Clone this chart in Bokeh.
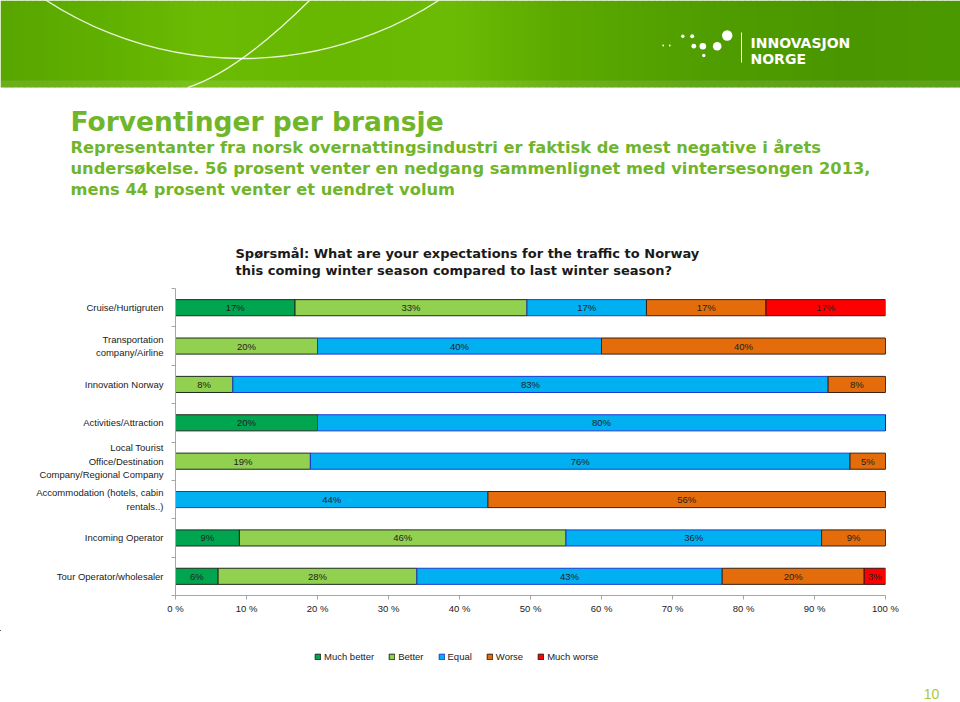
import numpy as np
from bokeh.plotting import figure
from bokeh.layouts import column
from bokeh.models import (Range1d, FixedTicker, ColumnDataSource, Legend, LegendItem)
from bokeh.core.properties import value
from bokeh.embed import file_html
from bokeh.resources import INLINE

# ---------------- data ----------------
categories = [
    "Cruise/Hurtigruten",
    "Transportation\ncompany/Airline",
    "Innovation Norway",
    "Activities/Attraction",
    "Local Tourist\nOffice/Destination\nCompany/Regional Company",
    "Accommodation (hotels, cabin\nrentals..)",
    "Incoming Operator",
    "Tour Operator/wholesaler",
]
series_names = ["Much better", "Better", "Equal", "Worse", "Much worse"]
much_better = [17, 0, 0, 20, 0, 0, 9, 6]
better = [33, 20, 8, 0, 19, 0, 46, 28]
equal = [17, 40, 83, 80, 76, 44, 36, 43]
worse = [17, 40, 8, 0, 5, 56, 9, 20]
much_worse = [17, 0, 0, 0, 0, 0, 0, 3]
x_ticks = [0, 10, 20, 30, 40, 50, 60, 70, 80, 90, 100]
x_tick_labels = ["0 %", "10 %", "20 %", "30 %", "40 %", "50 %", "60 %", "70 %", "80 %", "90 %", "100 %"]

title = "Forventinger per bransje"
subtitle_lines = [
    "Representanter fra norsk overnattingsindustri er faktisk de mest negative i årets",
    "undersøkelse. 56 prosent venter en nedgang sammenlignet med vintersesongen 2013,",
    "mens 44 prosent venter et uendret volum",
]
question_lines = [
    "Spørsmål: What are your expectations for the traffic to Norway",
    "this coming winter season compared to last winter season?",
]
page_number = "10"

fill_colors = ["#00a550", "#92d050", "#00b0f0", "#e46c0a", "#ff0000"]
line_colors = ["#1e2a1e", "#1e2a1e", "#1c3ad0", "#3a2010", "#3a1010"]

W = 960
H_HEAD = 288
H_CHART = 342
H_FOOT = 70

ARIAL = value("Liberation Sans")
WIDE = value("DejaVu Sans")
GREEN = "#70b52a"
SMALL = "9.5px"


def blank_fig(h):
    f = figure(width=W, height=h, x_range=Range1d(0, W), y_range=Range1d(h, 0),
               x_axis_location=None, y_axis_location=None, output_backend="svg",
               toolbar_location=None, min_border=0, outline_line_color=None,
               frame_align=False)
    f.grid.visible = False
    return f


# ---------------- header ----------------
head = blank_fig(H_HEAD)

stops_x = [0, 120, 200, 330, 450, 560, 700, 850, 960]
stops_rgb = [(88, 166, 0), (98, 178, 0), (108, 187, 4), (104, 184, 2), (108, 188, 6),
             (92, 170, 0), (80, 158, 0), (74, 150, 0), (76, 154, 0)]
strip_x = np.arange(0, 960, 6)
strip_cols = []
for sx in strip_x:
    rgb = [int(np.interp(sx + 3, stops_x, [c[k] for c in stops_rgb])) for k in range(3)]
    strip_cols.append("#%02x%02x%02x" % tuple(rgb))
head.quad(left=strip_x, right=strip_x + 6.6, top=0, bottom=87,
          fill_color=strip_cols, line_color=None)
head.quad(left=0, right=W, top=80, bottom=87, fill_color="white", fill_alpha=0.10, line_color=None)

# decorative curves
head.circle(x=[242], y=[-302], radius=360, fill_color=None, line_color="white",
            line_alpha=0.85, line_width=1.3)
head.quadratic(x0=[309], y0=[0], x1=[187], y1=[87], cx=[236], cy=[72],
               line_color="white", line_alpha=0.85, line_width=1.3)

# logo
dot_x = [662.7, 669.3, 682.3, 691.7, 693.3, 702.3, 716.7, 726.7, 703.3]
dot_y = [45, 45, 35.7, 35.7, 45.7, 45.7, 45.7, 35, 55]
dot_r = [0.9, 0.9, 1.7, 2.0, 2.4, 3.3, 4.3, 5.2, 1.7]
head.circle(x=dot_x, y=dot_y, radius=dot_r, fill_color="white", line_color=None)
head.segment(x0=[741], y0=[32], x1=[741], y1=[62], line_color="white", line_width=1)
head.text(x=[750, 750], y=[42.5, 58], text=["INNOVASJON", "NORGE"],
          text_font=WIDE, text_font_style="bold", text_font_size="14px",
          text_color="white", text_baseline="alphabetic", text_align="left")

# title / subtitle / question
head.text(x=[70], y=[121], text=[title], text_font=WIDE, text_font_style="bold",
          text_font_size="26.5px", text_color=GREEN, text_baseline="alphabetic")
head.text(x=[70, 70, 70], y=[147, 168, 189], text=subtitle_lines, text_font=WIDE,
          text_font_style="bold", text_font_size="16.3px", text_color=GREEN,
          text_baseline="alphabetic")
head.text(x=[235, 235], y=[253, 270], text=question_lines, text_font=WIDE,
          text_font_style="bold", text_font_size="13px", text_color="#1a1a1a",
          text_baseline="alphabetic")

# ---------------- chart ----------------
n = len(categories)
ys = list(range(1, n + 1))
raw = np.array([much_better, better, equal, worse, much_worse], dtype=float)
shares = raw / raw.sum(axis=0) * 100.0
cum = np.vstack([np.zeros(n), np.cumsum(shares, axis=0)])

chart = figure(width=W, height=H_CHART, x_range=Range1d(0, 100), y_range=Range1d(n + 0.5, 0.5),
               output_backend="svg", toolbar_location=None,
               min_border_left=175, min_border_right=75, min_border_top=0, min_border_bottom=35,
               outline_line_color=None, background_fill_color="white", border_fill_color="white",
               frame_align=False)
chart.xgrid.grid_line_color = None
chart.ygrid.grid_line_color = None

lab_x, lab_y, lab_t = [], [], []
for i, name in enumerate(series_names):
    src = ColumnDataSource(dict(y=ys, left=cum[i], right=cum[i + 1]))
    chart.hbar(y="y", left="left", right="right", height=0.42, source=src,
               fill_color=fill_colors[i], line_color=line_colors[i], line_width=1)
    for j in range(n):
        if raw[i, j] > 0:
            lab_x.append((cum[i, j] + cum[i + 1, j]) / 2)
            lab_y.append(ys[j])
            lab_t.append("%d%%" % raw[i, j])

chart.text(x=lab_x, y=lab_y, text=lab_t, text_align="center", text_baseline="middle",
           text_font=ARIAL, text_font_size=SMALL, text_color="#222222")

# y axis
yax = chart.yaxis[0]
yax.ticker = FixedTicker(ticks=ys, minor_ticks=[k + 0.5 for k in range(0, n + 1)])
yax.major_label_overrides = {y: c for y, c in zip(ys, categories)}
yax.major_tick_out = 0
yax.major_tick_in = 0
yax.minor_tick_out = 4
yax.minor_tick_in = 0
yax.axis_line_color = "#a6a6a6"
yax.minor_tick_line_color = "#a6a6a6"
yax.major_label_standoff = 8
yax.major_label_text_font = "Liberation Sans"
yax.major_label_text_font_size = SMALL
yax.major_label_text_color = "#1a1a1a"

# x axis
xax = chart.xaxis[0]
xax.ticker = FixedTicker(ticks=x_ticks, minor_ticks=[])
xax.major_label_overrides = {t: l for t, l in zip(x_ticks, x_tick_labels)}
xax.major_tick_out = 4
xax.major_tick_in = 0
xax.axis_line_color = "#a6a6a6"
xax.major_tick_line_color = "#a6a6a6"
xax.major_label_standoff = 3
xax.major_label_text_font = "Liberation Sans"
xax.major_label_text_font_size = SMALL
xax.major_label_text_color = "#1a1a1a"

# ---------------- footer (legend + page number) ----------------
foot = blank_fig(H_FOOT)
legend_items = []
for i, name in enumerate(series_names):
    # legend swatch renderers (their single bar lies far outside the visible area)
    proxy = foot.hbar(y=[-1000], left=[-1000], right=[-999], height=1, fill_color=fill_colors[i],
                      line_color=line_colors[i], line_width=1)
    legend_items.append(LegendItem(label=name, renderers=[proxy]))
legend = Legend(items=legend_items, orientation="horizontal", location=(314, 38),
                glyph_width=7, glyph_height=7, label_standoff=3, spacing=14,
                padding=0, margin=0, border_line_color=None, background_fill_alpha=0,
                label_text_font="Liberation Sans", label_text_font_size=SMALL,
                label_text_color="#1a1a1a", label_height=12)
foot.add_layout(legend)
foot.text(x=[931], y=[63], text=[page_number], text_align="center", text_baseline="alphabetic",
          text_font=ARIAL, text_font_size="14px", text_color="#a8c838")

layout = column(head, chart, foot, spacing=0)
open("out.html", "w").write(file_html(layout, INLINE))
